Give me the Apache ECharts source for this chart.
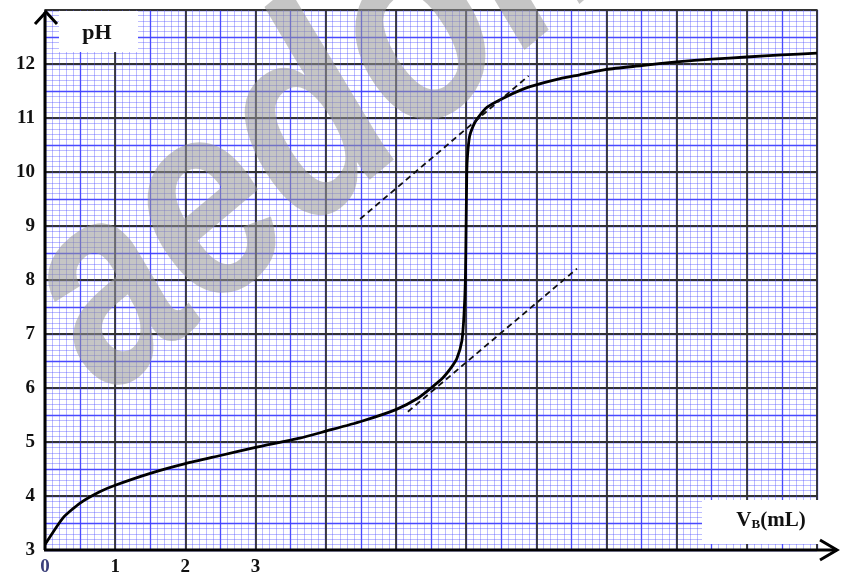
<!DOCTYPE html>
<html>
<head>
<meta charset="utf-8">
<script src="https://cdn.jsdelivr.net/npm/echarts@6/dist/echarts.min.js"></script>
<style>
  html, body { margin: 0; padding: 0; background: #fff; }
  #chart { width: 842px; height: 577px; }
</style>
</head>
<body>
<div id="chart"></div>
<script>
// Titration curve: pH versus added base volume V_B (mL)
const volumeMl = [0, 0.26, 0.5, 0.78, 1.0, 1.5, 2, 2.5, 3, 3.63, 4.0, 4.5, 5.0, 5.3, 5.5, 5.67, 5.8, 5.87, 5.94, 5.97, 5.99, 6.0, 6.01, 6.02, 6.05, 6.1, 6.15, 6.3, 6.58, 6.91, 7.34, 7.62, 8.0, 8.5, 9.0, 9.5, 10.0, 10.5, 11];
const phValues = [3.1, 3.6, 3.87, 4.08, 4.2, 4.42, 4.6, 4.75, 4.9, 5.07, 5.2, 5.38, 5.6, 5.8, 6.0, 6.19, 6.4, 6.55, 6.87, 7.35, 8.0, 9.0, 10.0, 10.3, 10.66, 10.85, 10.97, 11.2, 11.4, 11.58, 11.73, 11.8, 11.9, 11.97, 12.04, 12.09, 12.13, 12.17, 12.2];

// Parallel tangents used for the equivalence-point construction
const tangentUpper = [[4.49, 9.13], [6.89, 11.78]];
const tangentLower = [[5.17, 5.56], [7.58, 8.21]];

const xTickLabels = ['0', '1', '2', '3'];
const yTickLabels = ['3', '4', '5', '6', '7', '8', '9', '10', '11', '12'];

const curveData = volumeMl.map((v, i) => [v, phValues[i]]);

const labelFont = {
  fontFamily: '"Liberation Serif", "DejaVu Serif", serif',
  fontWeight: 'bold',
  fontSize: 19,
  color: '#111'
};

const chart = echarts.init(document.getElementById('chart'), null, { renderer: 'canvas' });

const option = {
  animation: false,
  backgroundColor: '#fff',
  grid: {
    left: 45, right: 25, top: 10, bottom: 24,
    show: true, borderColor: '#8a8a8a', borderWidth: 2, backgroundColor: 'transparent'
  },
  xAxis: [
    {
      type: 'value', min: 0, max: 11, interval: 1, z: 1,
      axisLine: { show: false }, axisTick: { show: false },
      axisLabel: Object.assign({}, labelFont, {
        margin: 8,
        formatter: v => {
          const s = String(v);
          if (!xTickLabels.includes(s)) return '';
          return s === '0' ? '{z|0}' : s;
        },
        rich: { z: Object.assign({}, labelFont, { color: '#3b3f7a' }) }
      }),
      splitLine: { show: true, lineStyle: { color: '#333', width: 1.8 } },
      minorTick: { show: false, splitNumber: 10 },
      minorSplitLine: { show: true, lineStyle: { color: 'rgba(80,80,255,0.38)', width: 1 } }
    },
    {
      type: 'value', min: 0, max: 11, interval: 0.5, z: 0,
      axisLine: { show: false }, axisTick: { show: false }, axisLabel: { show: false },
      splitLine: { show: true, lineStyle: { color: 'rgba(40,40,255,0.85)', width: 1.3 } }
    }
  ],
  yAxis: [
    {
      type: 'value', min: 3, max: 13, interval: 1, z: 1,
      axisLine: { show: false }, axisTick: { show: false },
      axisLabel: Object.assign({}, labelFont, {
        margin: 10,
        formatter: v => (yTickLabels.includes(String(v)) ? String(v) : '')
      }),
      splitLine: { show: true, lineStyle: { color: '#333', width: 1.8 } },
      minorTick: { show: false, splitNumber: 10 },
      minorSplitLine: { show: true, lineStyle: { color: 'rgba(80,80,255,0.38)', width: 1 } }
    },
    {
      type: 'value', min: 3, max: 13, interval: 0.5, z: 0,
      axisLine: { show: false }, axisTick: { show: false }, axisLabel: { show: false },
      splitLine: { show: true, lineStyle: { color: 'rgba(40,40,255,0.85)', width: 1.3 } }
    }
  ],
  series: [
    {
      name: 'pH', type: 'line', data: curveData, z: 4,
      xAxisIndex: 0, yAxisIndex: 0,
      smooth: 0.2, showSymbol: false,
      lineStyle: { color: '#000', width: 2.8 }
    },
    {
      name: 'tangent-upper', type: 'line', data: tangentUpper, z: 4,
      showSymbol: false,
      lineStyle: { color: '#111', width: 1.8, type: [6, 4] }
    },
    {
      name: 'tangent-lower', type: 'line', data: tangentLower, z: 4,
      showSymbol: false,
      lineStyle: { color: '#111', width: 1.8, type: [6, 4] }
    }
  ]
};

chart.setOption(option);

// Overlays: watermark, label boxes and arrowed axes, positioned from the axis scale
const origin = chart.convertToPixel({ gridIndex: 0 }, [0, 3]);
const corner = chart.convertToPixel({ gridIndex: 0 }, [11, 13]);
const ox = origin[0], oy = origin[1];
const topY = corner[1], rightX = corner[0];

chart.setOption({
  graphic: [
    {
      type: 'text', z: 2, x: 150, y: 445, rotation: 40 * Math.PI / 180,
      scaleY: 1.2,
      style: {
        text: 'aedom',
        font: 'italic bold 230px "Liberation Sans", Arial, sans-serif',
        fill: 'rgba(150,150,150,0.55)',
        verticalAlign: 'bottom', align: 'left'
      },
      silent: true
    },
    {
      type: 'rect', z: 5, shape: { x: ox + 14, y: topY + 1, width: 79, height: 41 },
      style: { fill: '#fff' }
    },
    {
      type: 'text', z: 6, x: ox + 52, y: topY + 23,
      style: {
        text: 'pH', align: 'center', verticalAlign: 'middle',
        font: 'bold 22px "Liberation Serif", serif', fill: '#111'
      }
    },
    {
      type: 'rect', z: 5, shape: { x: rightX - 115, y: oy - 50, width: 136, height: 44 },
      style: { fill: '#fff' }
    },
    {
      type: 'text', z: 6, x: rightX - 46, y: oy - 29,
      style: {
        text: '{v|V}{s|B}{v|(mL)}', align: 'center', verticalAlign: 'middle',
        rich: {
          v: { font: 'bold 21px "Liberation Serif", serif', fill: '#111' },
          s: { font: 'bold 13px "Liberation Serif", serif', fill: '#111', padding: [8, 0, 0, 0] }
        }
      }
    },
    {
      type: 'line', z: 7, shape: { x1: ox, y1: oy, x2: ox, y2: topY + 2 },
      style: { stroke: '#000', lineWidth: 3 }
    },
    {
      type: 'polyline', z: 7,
      shape: { points: [[ox - 10, topY + 14], [ox + 1, topY + 2], [ox + 12, topY + 14]] },
      style: { stroke: '#000', lineWidth: 3, fill: null }
    },
    {
      type: 'line', z: 7, shape: { x1: ox - 1, y1: oy, x2: rightX + 20, y2: oy },
      style: { stroke: '#000', lineWidth: 3 }
    },
    {
      type: 'polyline', z: 7,
      shape: { points: [[rightX + 3, oy - 10], [rightX + 20, oy], [rightX + 3, oy + 10]] },
      style: { stroke: '#000', lineWidth: 3, fill: null }
    }
  ]
});
</script>
</body>
</html>
